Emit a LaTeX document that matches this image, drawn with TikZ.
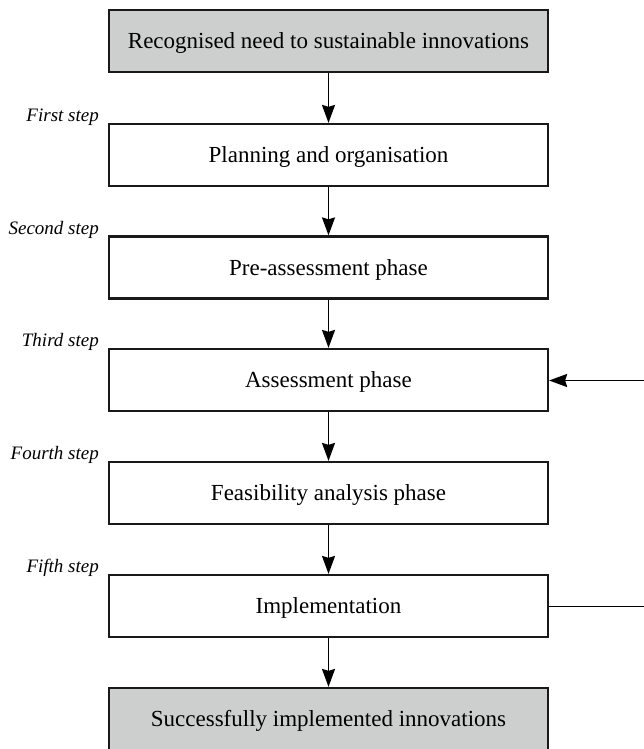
\documentclass[tikz,border=0pt]{standalone}
\usepackage{fontspec}
\setmainfont{Liberation Serif}
\usetikzlibrary{arrows.meta}
\definecolor{boxgray}{RGB}{205,206,206}
\tikzset{
  stepbox/.style={draw=black!90, line width=2.2pt, minimum width=439pt, minimum height=62pt,
    inner sep=0pt, text height=15pt, text depth=0pt, font=\fontsize{23}{26}\selectfont, fill=white},
  graybox/.style={stepbox, fill=boxgray},
  steplabel/.style={anchor=base east, inner sep=0pt, font=\fontsize{19}{22}\selectfont\itshape},
  flow/.style={line width=1.9pt, -{Stealth[length=18pt,width=13pt,inset=2pt]}},
  plainline/.style={line width=1.9pt}
}
\begin{document}
\begin{tikzpicture}[x=1pt,y=-1pt]
\useasboundingbox (0,0) rectangle (644,749);
\node[graybox] (start) at (328.5,41) {Recognised need to sustainable innovations};
\node[stepbox] (plan) at (328.5,155) {Planning and organisation};
\node[stepbox] (pre) at (328.5,267.5) {Pre-assessment phase};
\node[stepbox] (assess) at (328.5,380) {Assessment phase};
\node[stepbox] (feas) at (328.5,493) {Feasibility analysis phase};
\node[stepbox] (impl) at (328.5,606) {Implementation};
\node[graybox] (end) at (328.5,719) {Successfully implemented innovations};

\node[steplabel] (l1) at (99,121.5) {First step};
\node[steplabel] (l2) at (99,234) {Second step};
\node[steplabel] (l3) at (99,346.5) {Third step};
\node[steplabel] (l4) at (99,459.5) {Fourth step};
\node[steplabel] (l5) at (99,572.5) {Fifth step};

\draw[flow] (start) -- (plan);
\draw[flow] (plan) -- (pre);
\draw[flow] (pre) -- (assess);
\draw[flow] (assess) -- (feas);
\draw[flow] (feas) -- (impl);
\draw[flow] (impl) -- (end);

\coordinate (fbin) at (645,380.5);
\coordinate (fbout) at (645,606.5);
\draw[plainline] (impl.east |- fbout) -- (fbout);
\draw[flow] (fbin) -- (assess.east |- fbin);
\end{tikzpicture}
\end{document}
